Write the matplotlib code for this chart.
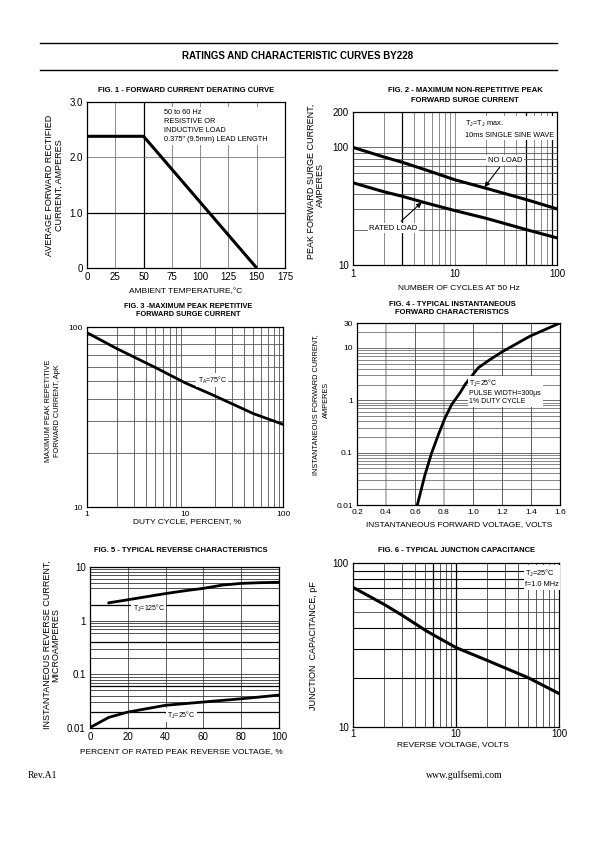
import matplotlib
matplotlib.use("Agg")
import matplotlib.pyplot as plt
from matplotlib.ticker import FixedLocator, NullLocator

W, H = 595, 842
NARROW = ['Liberation Sans Narrow', 'Liberation Sans', 'DejaVu Sans']
REG = ['Liberation Sans', 'DejaVu Sans']
plt.rcParams['font.family'] = REG
plt.rcParams['mathtext.default'] = 'regular'

# ---- data ----
# fig 1 - forward current derating
fig1_temp = [0, 50, 150]
fig1_current = [2.38, 2.38, 0.0]
fig1_xticks = [0, 25, 50, 75, 100, 125, 150, 175]
fig1_yticks = [0, 1.0, 2.0, 3.0]
fig1_yticklabels = ["0", "1.0", "2.0", "3.0"]

# fig 2 - non-repetitive surge current
fig2_cycles = [1, 2, 3, 5, 10, 20, 50, 100]
fig2_no_load = [100, 83, 75, 65, 53, 45, 36, 30]
fig2_rated_load = [50, 42, 38.5, 34, 29, 25, 20, 17]

# fig 3 - repetitive surge current
fig3_duty = [1, 2, 5, 10, 20, 50, 100]
fig3_current = [93, 76, 59.5, 49, 41.5, 33, 28.8]

# fig 4 - forward characteristics
fig4_volts = [0.616, 0.669, 0.715, 0.761, 0.807, 0.853, 0.91, 0.945, 1.037, 1.117, 1.209, 1.393, 1.6]
fig4_amps = [0.01, 0.038, 0.099, 0.22, 0.46, 0.83, 1.38, 2.0, 4.2, 6.0, 8.7, 16.8, 30]
fig4_xticks = [0.2, 0.4, 0.6, 0.8, 1.0, 1.2, 1.4, 1.6]
fig4_yticks = [0.01, 0.1, 1, 10, 30]
fig4_yticklabels = ["0.01", "0.1", "1", "10", "30"]

# fig 5 - reverse characteristics
fig5_pct_hot = [10, 20, 30, 40, 50, 60, 70, 80, 90, 100]
fig5_ir_hot = [2.15, 2.45, 2.8, 3.2, 3.6, 4.0, 4.6, 4.95, 5.1, 5.2]
fig5_pct_cold = [0, 10, 20, 40, 60, 80, 100]
fig5_ir_cold = [0.0102, 0.0158, 0.0198, 0.0265, 0.0305, 0.035, 0.041]

# fig 6 - junction capacitance
fig6_vr = [1, 2, 3, 5, 6, 10, 20, 50, 100]
fig6_cj = [71, 56, 48, 39, 36.5, 30.5, 25.5, 20, 16]

DEC = [2, 3, 4, 5, 6, 7, 8, 9, 20, 30, 40, 50, 60, 70, 80, 90]

fig = plt.figure(figsize=(W / 100, H / 100), dpi=100)


def px_ax(x0, y0, x1, y1):
    ax = fig.add_axes([x0 / W, 1 - y1 / H, (x1 - x0) / W, (y1 - y0) / H])
    for s in ax.spines.values():
        s.set_linewidth(0.9)
    ax.tick_params(length=0, pad=3, labelsize=6.5)
    return ax


def ftext(x, y, s, **kw):
    kw.setdefault('ha', 'center')
    kw.setdefault('va', 'center')
    fig.text(x / W, 1 - y / H, s, **kw)


def vgrid(ax, vals, c='#777777', lw=0.6):
    for v in vals:
        ax.axvline(v, color=c, lw=lw, zorder=1)


def hgrid(ax, vals, c='#777777', lw=0.6):
    for v in vals:
        ax.axhline(v, color=c, lw=lw, zorder=1)


def fix_ticks(ax, xt, xl, yt, yl, size=6.5):
    ax.xaxis.set_major_locator(FixedLocator(xt))
    ax.yaxis.set_major_locator(FixedLocator(yt))
    ax.xaxis.set_minor_locator(NullLocator())
    ax.yaxis.set_minor_locator(NullLocator())
    ax.set_xticklabels(xl, family=NARROW, size=size)
    ax.set_yticklabels(yl, family=NARROW, size=size)


box = dict(boxstyle='square,pad=0.2', fc='white', ec='none')

# header
fig.add_artist(plt.Line2D([40 / W, 557 / W], [1 - 43 / H, 1 - 43 / H], color='black', lw=1.0))
fig.add_artist(plt.Line2D([40 / W, 557 / W], [1 - 70 / H, 1 - 70 / H], color='black', lw=1.0))
ftext(298, 56, "RATINGS AND CHARACTERISTIC CURVES BY228", size=7, weight='bold')

# ---- FIG 1 ----
ax1 = px_ax(87, 102, 285, 268)
ax1.set_xlim(0, 175)
ax1.set_ylim(0, 3.0)
vgrid(ax1, [25, 75, 100, 125, 150])
vgrid(ax1, [50], c='black', lw=0.9)
hgrid(ax1, [2.0])
hgrid(ax1, [1.0], c='black', lw=0.9)
ax1.plot(fig1_temp, fig1_current, color='black', lw=2.2, zorder=3, solid_capstyle='butt')
fix_ticks(ax1, fig1_xticks, [str(t) for t in fig1_xticks], fig1_yticks, fig1_yticklabels, size=7)
ax1.text(68, 2.88, "50 to 60 Hz\nRESISTIVE OR\nINDUCTIVE LOAD\n0.375\" (9.5mm) LEAD LENGTH",
         family=NARROW, size=5.3, va='top', ha='left', linespacing=1.45, bbox=box, zorder=4)
ftext(186, 90, "FIG. 1 - FORWARD CURRENT DERATING CURVE", size=5.5, weight='bold', family=NARROW)
ftext(186, 292, "AMBIENT TEMPERATURE,\u00b0C", size=6, family=NARROW)
ftext(50, 185, "AVERAGE FORWARD RECTIFIED", size=6.5, rotation=90)
ftext(59, 185, "CURRENT, AMPERES", size=6.5, rotation=90)

# ---- FIG 2 ----
ax2 = px_ax(353, 112, 557, 265)
ax2.set_xscale('log')
ax2.set_yscale('log')
ax2.set_xlim(1, 100)
ax2.set_ylim(10, 200)
vgrid(ax2, [2, 4, 5, 6, 7, 8, 9, 10, 20, 30, 40, 60, 70, 80])
vgrid(ax2, [3, 50, 90], c='black', lw=0.9)
hgrid(ax2, [20, 30, 40, 50, 60, 70, 80, 90, 100], c='#555555')
ax2.plot(fig2_cycles, fig2_no_load, color='black', lw=2.2, zorder=3)
ax2.plot(fig2_cycles, fig2_rated_load, color='black', lw=2.2, zorder=3)
fix_ticks(ax2, [1, 10, 100], ["1", "10", "100"], [10, 100, 200], ["10", "100", "200"], size=7)
ax2.annotate("NO LOAD", xy=(19.5, 46), xytext=(31, 78), family=NARROW, size=5.5,
             ha='center', va='center', bbox=box, zorder=4,
             arrowprops=dict(arrowstyle='-|>', color='black', lw=0.8, mutation_scale=7, shrinkA=2, shrinkB=0))
ax2.annotate("RATED LOAD", xy=(4.7, 34), xytext=(2.5, 20.6), family=NARROW, size=5.5,
             ha='center', va='center', bbox=box, zorder=4,
             arrowprops=dict(arrowstyle='-|>', color='black', lw=0.8, mutation_scale=7, shrinkA=2, shrinkB=0))
ax2.text(12.5, 175, "T$_J$=T$_J$ max.\n10ms SINGLE SINE WAVE", family=NARROW, size=5.3,
         ha='left', va='top', linespacing=1.5, bbox=box, zorder=4)
ftext(465, 90, "FIG. 2 - MAXIMUM NON-REPETITIVE PEAK", size=5.5, weight='bold', family=NARROW)
ftext(465, 100, "FORWARD SURGE CURRENT", size=5.5, weight='bold', family=NARROW)
ftext(459, 289, "NUMBER OF CYCLES AT 50 Hz", size=6, family=NARROW)
ftext(311, 181, "PEAK FORWARD SURGE CURRENT,", size=6.5, rotation=90)
ftext(320, 185, "AMPERES", size=6.5, rotation=90)

# ---- FIG 3 ----
ax3 = px_ax(87, 327, 283, 507)
ax3.set_xscale('log')
ax3.set_yscale('log')
ax3.set_xlim(1, 100)
ax3.set_ylim(10, 100)
vgrid(ax3, DEC, c='#555555')
hgrid(ax3, [20, 30, 40, 50, 60, 70, 80, 90], c='#555555')
ax3.plot(fig3_duty, fig3_current, color='black', lw=2.0, zorder=3)
fix_ticks(ax3, [1, 10, 100], ["1", "10", "100"], [10, 100], ["10", "100"], size=6)
ax3.text(13.5, 50.5, "T$_A$=75\u00b0C", family=NARROW, size=5, ha='left', va='center', bbox=box, zorder=4)
ftext(188, 307, "FIG. 3 -MAXIMUM PEAK REPETITIVE", size=5.3, weight='bold', family=NARROW)
ftext(188, 315, "FORWARD SURGE CURRENT", size=5.3, weight='bold', family=NARROW)
ftext(187, 522, "DUTY CYCLE, PERCENT, %", size=6, family=NARROW)
ftext(49, 411, "MAXIMUM PEAK REPETITIVE", size=5.3, rotation=90, family=NARROW)
ftext(57, 411, "FORWARD CURRENT, ApK", size=5.3, rotation=90, family=NARROW)

# ---- FIG 4 ----
ax4 = px_ax(357, 323, 560, 505)
ax4.set_yscale('log')
ax4.set_xlim(0.2, 1.6)
ax4.set_ylim(0.01, 30)
vgrid(ax4, [0.6, 1.0, 1.2, 1.4], c='#444444')
vgrid(ax4, [0.4, 0.8], c='#aaaaaa', lw=1.1)
minor4 = [m * d for d in [0.01, 0.1, 1] for m in range(2, 10)] + [20]
hgrid(ax4, minor4, c='#555555', lw=0.5)
hgrid(ax4, [0.1, 1, 10], c='#555555', lw=0.6)
ax4.plot(fig4_volts, fig4_amps, color='black', lw=2.0, zorder=3)
fix_ticks(ax4, fig4_xticks, ["%.1f" % t for t in fig4_xticks], fig4_yticks, fig4_yticklabels, size=6)
ax4.text(0.975, 1.45, "T$_J$=25\u00b0C\nPULSE WIDTH=300\u03bcs\n1% DUTY CYCLE", family=NARROW, size=5,
         ha='left', va='center', linespacing=1.2, bbox=box, zorder=4)
ftext(452, 304, "FIG. 4 - TYPICAL INSTANTANEOUS", size=5.5, weight='bold', family=NARROW)
ftext(452, 313, "FORWARD CHARACTERISTICS", size=5.5, weight='bold', family=NARROW)
ftext(459, 525, "INSTANTANEOUS FORWARD VOLTAGE, VOLTS", size=6, family=NARROW)
ftext(316, 405, "INSTANTANEOUS FORWARD CURRENT,", size=5.3, rotation=90, family=NARROW)
ftext(326, 400, "AMPERES", size=5.3, rotation=90, family=NARROW)

# ---- FIG 5 ----
ax5 = px_ax(90, 567, 279, 728)
ax5.set_yscale('log')
ax5.set_xlim(0, 100)
ax5.set_ylim(0.01, 10)
vgrid(ax5, [20, 40, 60, 80], c='#444444')
hgrid(ax5, [9, 8, 7, 6, 5, 4, 1, 0.9, 0.8, 0.7, 0.6, 0.3, 0.2, 0.1, 0.09, 0.08, 0.07, 0.05, 0.04, 0.03],
      c='#333333', lw=0.6)
hgrid(ax5, [2, 0.4, 0.06, 0.02], c='black', lw=0.9)
ax5.plot(fig5_pct_hot, fig5_ir_hot, color='black', lw=2.0, zorder=3)
ax5.plot(fig5_pct_cold, fig5_ir_cold, color='black', lw=2.0, zorder=3)
fix_ticks(ax5, [0, 20, 40, 60, 80, 100], ["0", "20", "40", "60", "80", "100"],
          [0.01, 0.1, 1, 10], ["0.01", "0.1", "1", "10"], size=7)
ax5.text(22.5, 1.7, "T$_J$=125\u00b0C", family=NARROW, size=5, ha='left', va='center', bbox=box, zorder=4)
ax5.text(41, 0.0175, "T$_J$=25\u00b0C", family=NARROW, size=5, ha='left', va='center', bbox=box, zorder=4)
ftext(181, 551, "FIG. 5 - TYPICAL REVERSE CHARACTERISTICS", size=5.5, weight='bold', family=NARROW)
ftext(181, 752, "PERCENT OF RATED PEAK REVERSE VOLTAGE, %", size=6, family=NARROW)
ftext(47, 645, "INSTANTANEOUS REVERSE CURRENT,", size=6.5, rotation=90)
ftext(56, 645, "MICROAMPERES", size=6.5, rotation=90)

# ---- FIG 6 ----
ax6 = px_ax(353, 563, 559, 727)
ax6.set_xscale('log')
ax6.set_yscale('log')
ax6.set_xlim(1, 100)
ax6.set_ylim(10, 100)
vgrid(ax6, [2, 3, 4, 5, 7, 8, 9, 20, 30, 40, 50, 60, 70, 80, 90], c='#444444')
vgrid(ax6, [6, 10], c='black', lw=0.9)
hgrid(ax6, [50, 60], c='#444444')
hgrid(ax6, [20, 30, 40, 70, 80, 90], c='black', lw=0.8)
ax6.plot(fig6_vr, fig6_cj, color='black', lw=2.2, zorder=3)
fix_ticks(ax6, [1, 10, 100], ["1", "10", "100"], [10, 100], ["10", "100"], size=7)
ax6.tick_params(axis='x', pad=1.5)
ax6.text(47, 93, "T$_J$=25\u00b0C\nf=1.0 MHz", family=NARROW, size=5.3, ha='left', va='top',
         linespacing=1.4, bbox=box, zorder=4)
ftext(457, 551, "FIG. 6 - TYPICAL JUNCTION CAPACITANCE", size=5.5, weight='bold', family=NARROW)
ftext(453, 745, "REVERSE VOLTAGE, VOLTS", size=6, family=NARROW)
ftext(313, 646, "JUNCTION  CAPACITANCE, pF", size=6.5, rotation=90)

# footer
ftext(28, 775, "Rev.A1", size=7, family=['Liberation Serif'], ha='left')
ftext(503, 775, "www.gulfsemi.com", size=7, family=['Liberation Serif'], ha='right')

fig.savefig("out.png", dpi=100)
